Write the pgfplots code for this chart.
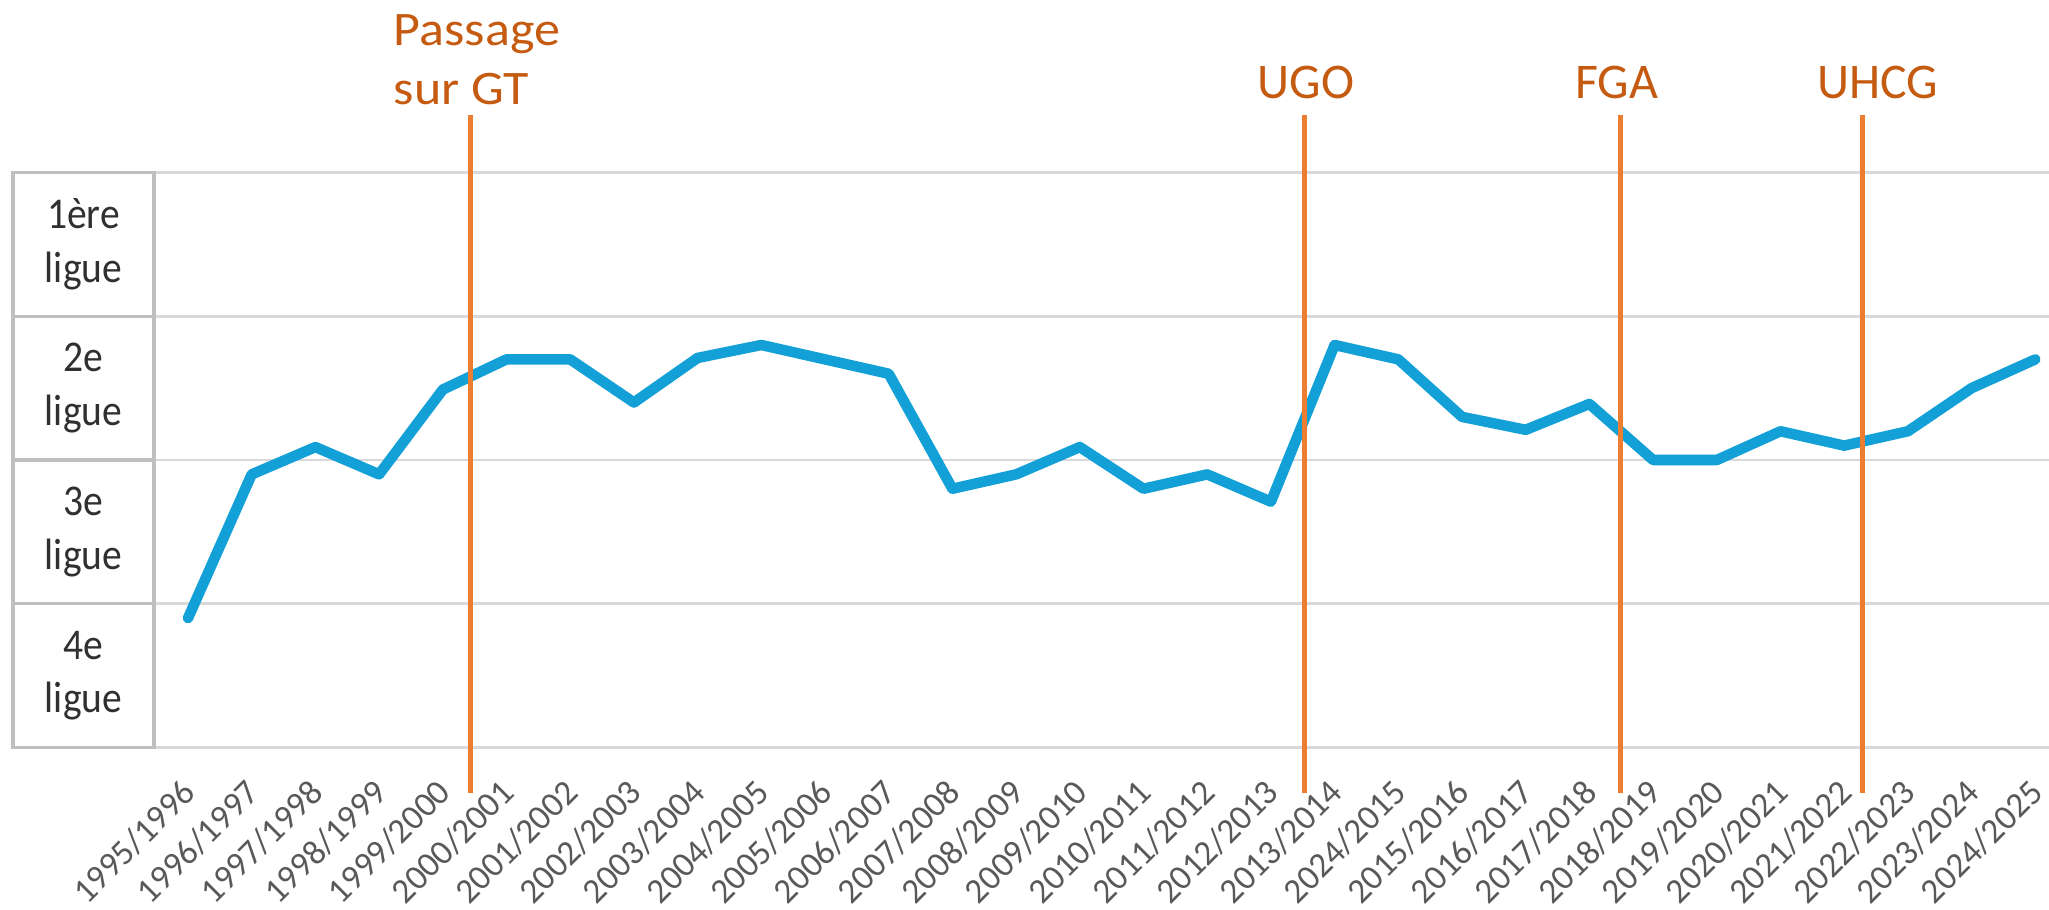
\documentclass[border=0pt]{standalone}
\usepackage{fontspec}
\setmainfont{Carlito}
\newfontfamily\tickfont{Carlito}
\newfontfamily\lblfont[FakeStretch=0.9]{Carlito}
\newfontfamily\passfont[FakeStretch=1.08]{Carlito}
\newfontfamily\annfont{Carlito}
\usepackage{pgfplots}
\pgfplotsset{compat=1.18}
\definecolor{lineblue}{HTML}{12A0D7}
\definecolor{orangeline}{HTML}{ED7D31}
\definecolor{anntext}{HTML}{C55A11}
\definecolor{gridgray}{HTML}{D9D9D9}
\definecolor{boxgray}{HTML}{BFBFBF}
\definecolor{tickgray}{HTML}{595959}
\definecolor{lblgray}{HTML}{303030}
\begin{document}
\begin{tikzpicture}
\useasboundingbox (-15.4mm,-16.25mm) rectangle (189.5mm,74.75mm);
\begin{axis}[
  at={(0,0)}, anchor=south west,
  width=189.5mm, height=57.5mm, scale only axis,
  xmin=-0.534, xmax=29.215, ymin=0, ymax=4,
  clip=false,
  axis line style={draw=none},
  ytick={0,1,2,3,4}, yticklabels={},
  ymajorgrids, grid style={gridgray, line width=0.85pt},
  major tick length=0pt,
  xtick={0,...,29},
  xticklabels={1995/1996,1996/1997,1997/1998,1998/1999,1999/2000,2000/2001,2001/2002,2002/2003,2003/2004,2004/2005,2005/2006,2006/2007,2007/2008,2008/2009,2009/2010,2010/2011,2011/2012,2012/2013,2013/2014,2024/2015,2015/2016,2016/2017,2017/2018,2018/2019,2019/2020,2020/2021,2021/2022,2022/2023,2023/2024,2024/2025},
  xticklabel style={rotate=45, anchor=north east, inner sep=0pt, font=\tickfont\fontsize{10}{12}\selectfont, text=tickgray, xshift=-2.6mm, yshift=-1.5mm},
]
\addplot[line width=3pt, color=lineblue, line join=round, line cap=round] coordinates {
(0,0.90) (1,1.90) (2,2.09) (3,1.90) (4,2.49) (5,2.70) (6,2.70) (7,2.40) (8,2.71) (9,2.80)
(10,2.70) (11,2.60) (12,1.80) (13,1.90) (14,2.09) (15,1.80) (16,1.90) (17,1.71) (18,2.80) (19,2.70)
(20,2.30) (21,2.21) (22,2.39) (23,2.00) (24,2.00) (25,2.20) (26,2.10) (27,2.20) (28,2.50) (29,2.70)
};
\draw[orangeline, line width=1.42pt] (axis cs:4.43,-0.317) -- (axis cs:4.43,4.40);
\draw[orangeline, line width=1.42pt] (axis cs:17.53,-0.317) -- (axis cs:17.53,4.40);
\draw[orangeline, line width=1.42pt] (axis cs:22.49,-0.317) -- (axis cs:22.49,4.40);
\draw[orangeline, line width=1.42pt] (axis cs:26.29,-0.317) -- (axis cs:26.29,4.40);
\node[anchor=base west, text=anntext, font=\passfont\fontsize{13.7}{16}\selectfont, inner sep=0pt] at (axis cs:3.22,4.887) {Passage};
\node[anchor=base west, text=anntext, font=\passfont\fontsize{13.7}{16}\selectfont, inner sep=0pt] at (axis cs:3.22,4.470) {sur GT};
\node[anchor=base, text=anntext, font=\annfont\fontsize{14.2}{16}\selectfont, inner sep=0pt] at (axis cs:17.55,4.518) {UGO};
\node[anchor=base, text=anntext, font=\annfont\fontsize{14.2}{16}\selectfont, inner sep=0pt] at (axis cs:22.43,4.518) {FGA};
\node[anchor=base, text=anntext, font=\annfont\fontsize{14.2}{16}\selectfont, inner sep=0pt] at (axis cs:26.53,4.518) {UHCG};
\end{axis}
\draw[boxgray, line width=0.9pt] (-14.1mm,0) rectangle (0,57.5mm);
\foreach \yy in {14.375,28.75,43.125} {\draw[boxgray, line width=0.9pt] (-14.1mm,\yy mm) -- (0,\yy mm);}
\foreach \yy/\txt in {50.31/1ère, 35.94/2e, 21.56/3e, 7.19/4e} {
  \node[align=center, text=lblgray, font=\lblfont\fontsize{12.5}{15.3}\selectfont] at (-7.05mm,\yy mm) {\txt\\ligue};
}
\end{tikzpicture}
\end{document}
